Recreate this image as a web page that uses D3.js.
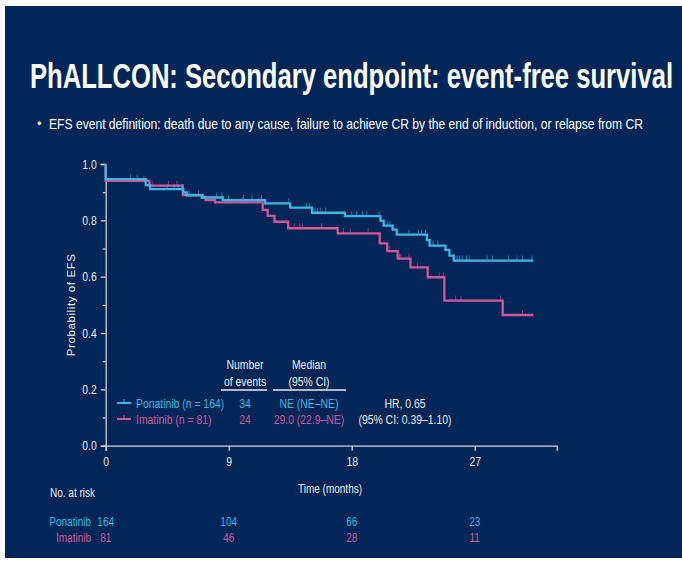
<!DOCTYPE html>
<html>
<head>
<meta charset="utf-8">
<script src="https://cdn.jsdelivr.net/npm/d3@7"></script>
<style>
  body { margin: 0; background: #fff; }
  svg { display: block; }
  text { font-family: "Liberation Sans Narrow", "Arial Narrow", "Liberation Sans", Arial, sans-serif; }
</style>
</head>
<body>
<script>
//Curve data (months, probability)
var ponaTimes = [0, 2.93, 3.25, 5.68, 5.93, 7.03, 8.57, 11.67, 13.5, 15.1, 17.5, 20.1, 20.34, 21.0, 21.3, 23.5, 23.7, 24.86, 25.15, 25.47];
var ponaSurv  = [0.946, 0.925, 0.911, 0.899, 0.889, 0.881, 0.872, 0.860, 0.845, 0.827, 0.815, 0.799, 0.781, 0.767, 0.749, 0.730, 0.710, 0.695, 0.675, 0.657];
var imaTimes  = [0, 3.2, 5.64, 7.1, 7.3, 8.0, 11.49, 11.85, 12.35, 13.35, 16.97, 20.05, 20.6, 21.36, 22.3, 23.56, 24.78, 29.05];
var imaSurv   = [0.940, 0.923, 0.890, 0.882, 0.872, 0.864, 0.837, 0.816, 0.795, 0.772, 0.754, 0.718, 0.691, 0.664, 0.633, 0.598, 0.515, 0.464];
var lastTime = 31.3;

//Censoring marks
var ponaCensor = [1.8, 2.3, 4.5, 5.0, 5.3, 5.6, 6.1, 8.1, 8.5, 9.0, 10.1, 10.7, 11.4, 13.4, 14.7, 14.9, 15.3, 15.5, 15.7, 16.1, 18.0, 18.35, 18.8, 19.1, 20.0, 20.6, 20.8, 22.2, 22.9, 23.1, 23.4, 23.95, 24.3, 25.7, 25.9, 26.1, 26.4, 26.6, 27.9, 28.3, 29.5, 30.1, 30.5, 31.2];
var imaCensor  = [2.8, 3.4, 4.6, 5.2, 6.8, 7.3, 9.0, 10.0, 11.2, 13.8, 14.2, 14.4, 15.8, 17.4, 17.9, 19.2, 20.8, 21.5, 21.6, 22.2, 22.8, 24.4, 24.7, 25.6, 26.0, 28.9, 30.5];

//Axis ticks and risk table
var xTicks = [0, 9, 18, 27];
var yTicks = [0, 0.2, 0.4, 0.6, 0.8, 1.0];
var yMinor = [0.1, 0.3, 0.5, 0.7, 0.9];
var ponaRisk = [164, 104, 66, 23];
var imaRisk = [81, 46, 28, 11];

var blue = "#3fb7e3", pink = "#d4579a", bg = "#022658", fg = "#ececec";

var svg = d3.select("body").append("svg")
    .attr("width", 682)
    .attr("height", 561);

//slide background
svg.append("rect")
    .attr("x", 5).attr("y", 6)
    .attr("width", 677).attr("height", 552)
    .attr("fill", bg);

svg.append("text")
    .attr("x", 30).attr("y", 88)
    .attr("textLength", 643).attr("lengthAdjust", "spacingAndGlyphs")
    .attr("font-size", 35).attr("font-weight", "bold")
    .attr("fill", "#fff")
    .text("PhALLCON: Secondary endpoint: event-free survival");

svg.append("text")
    .attr("x", 37).attr("y", 128)
    .attr("font-size", 13).attr("fill", "#fff")
    .text("\u2022");
svg.append("text")
    .attr("x", 49).attr("y", 129)
    .attr("textLength", 594).attr("lengthAdjust", "spacingAndGlyphs")
    .attr("font-size", 15).attr("fill", "#fff")
    .text("EFS event definition: death due to any cause, failure to achieve CR by the end of induction, or relapse from CR");

//Scales
var x = d3.scaleLinear().domain([0, 33]).range([105.7, 556.7]);
var y = d3.scaleLinear().domain([0, 1]).range([445.7, 164]);

var g = svg.append("g");

//Axes
g.append("g")
    .attr("transform", "translate(" + x(0) + ",0)")
    .call(d3.axisLeft(y).tickValues(yTicks).tickFormat(d3.format(".1f")).tickSize(5).tickPadding(4));
g.append("g")
    .attr("transform", "translate(" + x(0) + ",0)")
    .call(d3.axisLeft(y).tickValues(yMinor).tickFormat("").tickSize(3))
    .select(".domain").remove();
g.append("g")
    .attr("transform", "translate(0," + y(0) + ")")
    .call(d3.axisBottom(x).tickValues(xTicks).tickSize(5).tickPadding(6));

g.selectAll(".domain, .tick line").attr("stroke", "#cfd3da").attr("stroke-width", 1.3);
g.selectAll(".tick text").attr("fill", fg).attr("font-size", 13).classed("narrow", true)
    .style("font-family", null);

svg.append("text")
    .attr("transform", "translate(75," + y(0.5) + ") rotate(-90)")
    .attr("text-anchor", "middle")
    .attr("font-size", 11.5).attr("fill", fg)
    .style("font-family", '"Liberation Sans", Arial, sans-serif')
    .attr("letter-spacing", 0.6)
    .text("Probability of EFS");

svg.append("text")
    .attr("class", "narrow")
    .attr("x", 330).attr("y", 493)
    .attr("text-anchor", "middle")
    .attr("font-size", 12.5).attr("fill", fg)
    .text("Time (months)");

//KM curves
var line = d3.line()
    .x(function(d) { return x(d[0]); })
    .y(function(d) { return y(d[1]); })
    .curve(d3.curveStepAfter);

function pts(times, surv) {
    var p = [[0, 1]];
    for (var i = 0; i < times.length; i++) p.push([times[i], surv[i]]);
    p.push([lastTime, surv[surv.length - 1]]);
    return p;
}
function survAt(times, surv, t) {
    var s = 1;
    for (var i = 0; i < times.length; i++) if (times[i] <= t) s = surv[i];
    return s;
}

var series = [
    {times: imaTimes, surv: imaSurv, censor: imaCensor, color: pink},
    {times: ponaTimes, surv: ponaSurv, censor: ponaCensor, color: blue}
];

series.forEach(function(s) {
    g.append("g").selectAll("line")
        .data(s.censor)
        .enter().append("line")
        .attr("x1", function(d) { return x(d); })
        .attr("x2", function(d) { return x(d); })
        .attr("y1", function(d) { return y(survAt(s.times, s.surv, d)); })
        .attr("y2", function(d) { return y(survAt(s.times, s.surv, d)) - 5; })
        .attr("stroke", s.color).attr("stroke-opacity", 0.6).attr("stroke-width", 1);
    g.append("path")
        .datum(pts(s.times, s.surv))
        .attr("d", line)
        .attr("fill", "none")
        .attr("stroke", s.color)
        .attr("stroke-width", 2.3);
});

//Legend / summary table
var head = svg.append("g").attr("font-size", 13).attr("fill", fg).attr("text-anchor", "middle");
head.append("text").attr("class", "narrow").attr("x", 245).attr("y", 369).text("Number");
head.append("text").attr("class", "narrow").attr("x", 245).attr("y", 386).text("of events");
head.append("text").attr("class", "narrow").attr("x", 309).attr("y", 369).text("Median");
head.append("text").attr("class", "narrow").attr("x", 309).attr("y", 386).text("(95% CI)");
svg.append("line").attr("x1", 221).attr("x2", 267).attr("y1", 390).attr("y2", 390).attr("stroke", fg).attr("stroke-width", 1.5);
svg.append("line").attr("x1", 273).attr("x2", 346).attr("y1", 390).attr("y2", 390).attr("stroke", fg).attr("stroke-width", 1.5);

var legendRows = [
    {name: "Ponatinib (n = 164)", events: "34", median: "NE (NE\u2013NE)", color: blue, yy: 408},
    {name: "Imatinib (n = 81)", events: "24", median: "29.0 (22.9\u2013NE)", color: pink, yy: 424}
];
legendRows.forEach(function(r) {
    svg.append("line").attr("x1", 117).attr("x2", 131).attr("y1", r.yy - 5).attr("y2", r.yy - 5)
        .attr("stroke", r.color).attr("stroke-width", 2);
    svg.append("line").attr("x1", 124).attr("x2", 124).attr("y1", r.yy - 5).attr("y2", r.yy - 9)
        .attr("stroke", r.color).attr("stroke-width", 1);
    svg.append("text").attr("class", "narrow").attr("x", 136).attr("y", r.yy).attr("font-size", 13)
        .attr("fill", r.color).text(r.name);
    svg.append("text").attr("class", "narrow").attr("x", 245).attr("y", r.yy).attr("font-size", 13)
        .attr("fill", r.color).attr("text-anchor", "middle").text(r.events);
    svg.append("text").attr("class", "narrow").attr("x", 309).attr("y", r.yy).attr("font-size", 13)
        .attr("fill", r.color).attr("text-anchor", "middle").text(r.median);
});
svg.append("text").attr("class", "narrow").attr("x", 405).attr("y", 408).attr("font-size", 13).attr("fill", fg)
    .attr("text-anchor", "middle").text("HR, 0.65");
svg.append("text").attr("class", "narrow").attr("x", 405).attr("y", 424).attr("font-size", 13).attr("fill", fg)
    .attr("text-anchor", "middle").text("(95% CI: 0.39\u20131.10)");

//Number at risk
svg.append("text").attr("class", "narrow").attr("x", 50).attr("y", 497).attr("font-size", 12.5)
    .attr("fill", fg).text("No. at risk");
var riskRows = [
    {name: "Ponatinib", vals: ponaRisk, color: blue, yy: 526},
    {name: "Imatinib", vals: imaRisk, color: pink, yy: 542}
];
riskRows.forEach(function(r) {
    svg.append("text").attr("class", "narrow").attr("x", 91).attr("y", r.yy).attr("font-size", 12.5)
        .attr("fill", r.color).attr("text-anchor", "end").text(r.name);
    svg.append("g").selectAll("text")
        .data(r.vals)
        .enter().append("text")
        .attr("class", "narrow")
        .attr("x", function(d, i) { return x(xTicks[i]); })
        .attr("y", r.yy)
        .attr("text-anchor", "middle")
        .attr("font-size", 12.5)
        .attr("fill", r.color)
        .text(function(d) { return d; });
});

//squeeze regular glyphs to look like the condensed slide font
svg.selectAll("text.narrow").each(function() {
    var len = this.getComputedTextLength();
    d3.select(this).attr("textLength", len * 0.8).attr("lengthAdjust", "spacingAndGlyphs");
});
</script>
</body>
</html>
